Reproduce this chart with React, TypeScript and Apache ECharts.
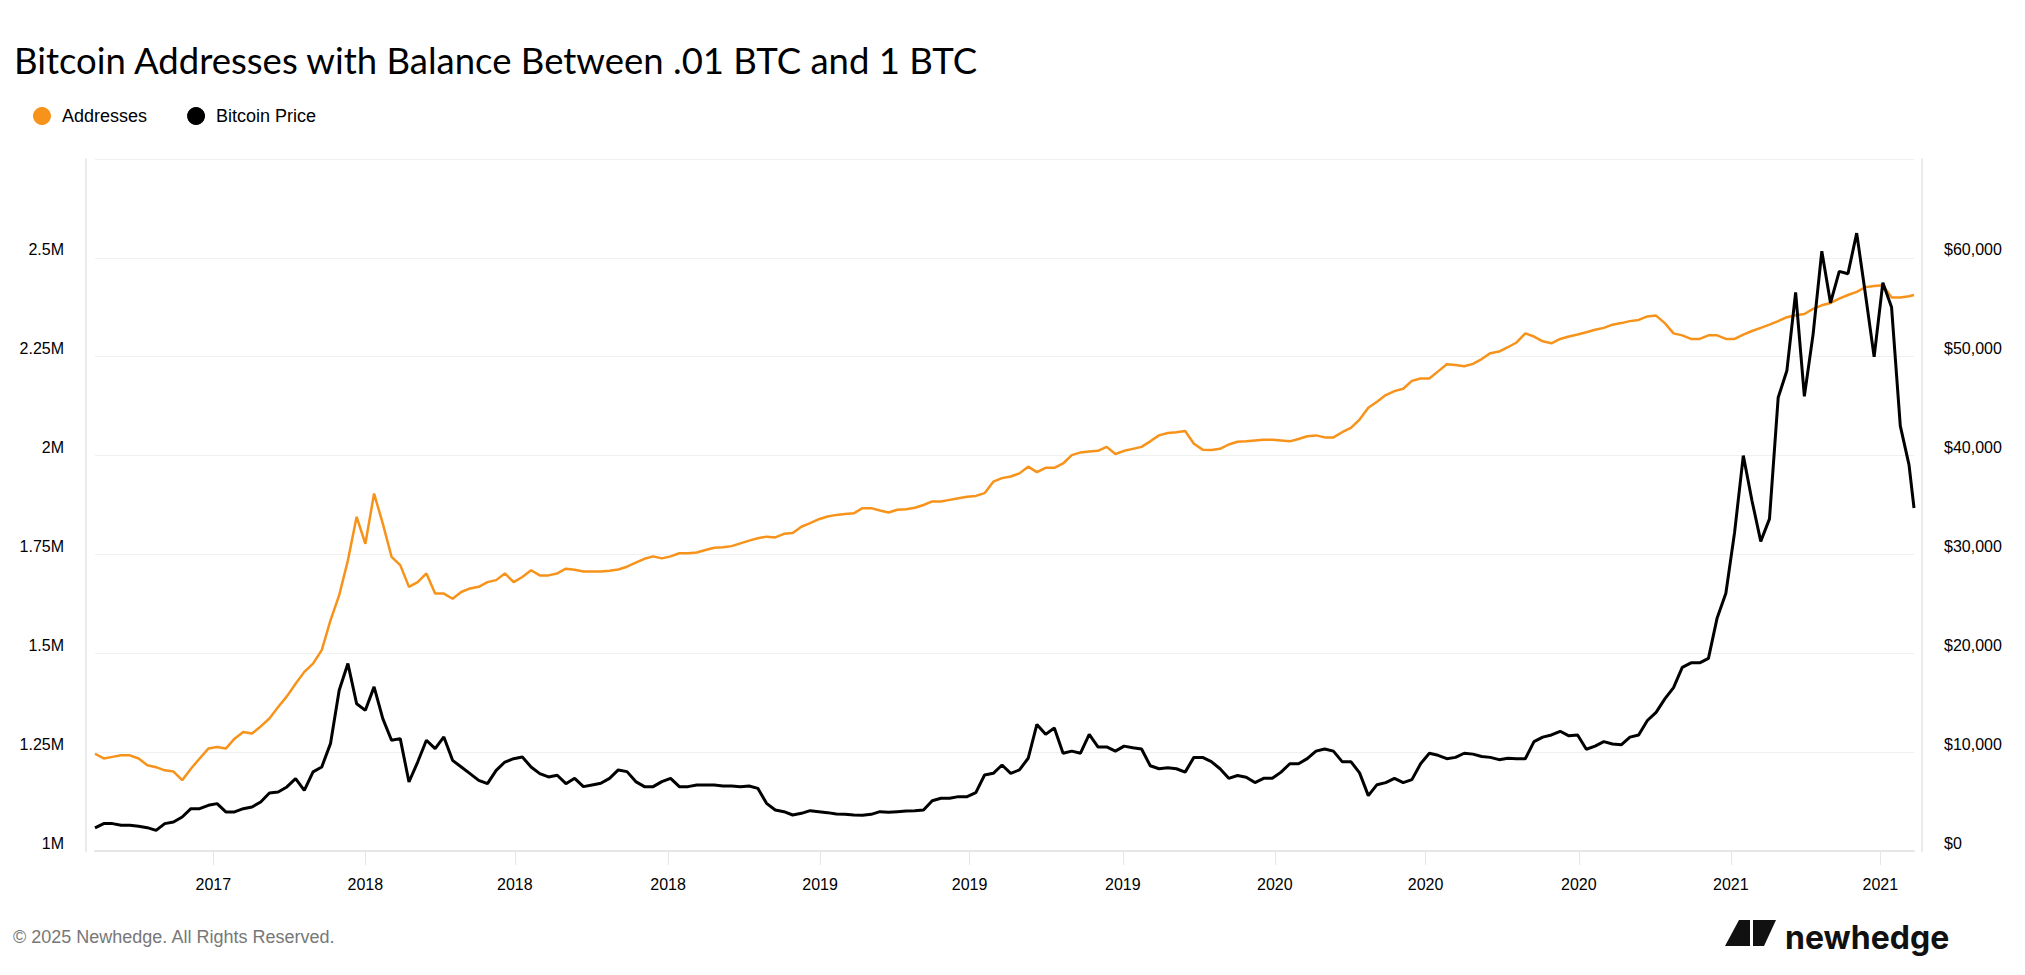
import * as echarts from 'echarts';
import { useEffect, useRef } from 'react';

// weekly samples from 2017-05-29, last point on 2021-05-28
const addresses = [
    1.246, 1.234, 1.238, 1.242, 1.242, 1.234, 1.217, 1.212, 1.204, 1.201,
    1.179, 1.208, 1.234, 1.259, 1.263, 1.259, 1.284, 1.301, 1.297, 1.315,
    1.335, 1.364, 1.391, 1.423, 1.453, 1.474, 1.508, 1.583, 1.647, 1.735,
    1.845, 1.777, 1.904, 1.828, 1.744, 1.723, 1.668, 1.680, 1.702, 1.651,
    1.651, 1.638, 1.655, 1.664, 1.668, 1.680, 1.685, 1.702, 1.680, 1.693,
    1.710, 1.697, 1.697, 1.702, 1.714, 1.711, 1.707, 1.707, 1.707, 1.709,
    1.712, 1.719, 1.729, 1.739, 1.745, 1.740, 1.745, 1.753, 1.753, 1.755,
    1.761, 1.767, 1.768, 1.771, 1.778, 1.785, 1.791, 1.795, 1.793, 1.802,
    1.804, 1.820, 1.829, 1.839, 1.846, 1.850, 1.852, 1.854, 1.867, 1.867,
    1.861, 1.856, 1.863, 1.864, 1.868, 1.875, 1.884, 1.884, 1.888, 1.892,
    1.896, 1.898, 1.905, 1.934, 1.943, 1.947, 1.955, 1.972, 1.958, 1.969,
    1.969, 1.980, 2.001, 2.008, 2.010, 2.012, 2.022, 2.004, 2.012, 2.017,
    2.022, 2.036, 2.051, 2.057, 2.059, 2.062, 2.030, 2.015, 2.014, 2.017,
    2.028, 2.035, 2.036, 2.038, 2.040, 2.040, 2.038, 2.036, 2.042, 2.049,
    2.051, 2.046, 2.046, 2.059, 2.070, 2.091, 2.121, 2.136, 2.153, 2.163,
    2.169, 2.189, 2.195, 2.195, 2.213, 2.231, 2.229, 2.226, 2.232, 2.244,
    2.259, 2.263, 2.274, 2.286, 2.309, 2.301, 2.289, 2.284, 2.295, 2.301,
    2.306, 2.312, 2.318, 2.323, 2.331, 2.335, 2.340, 2.343, 2.352, 2.354,
    2.335, 2.309, 2.304, 2.295, 2.295, 2.304, 2.304, 2.295, 2.295, 2.306,
    2.315, 2.323, 2.331, 2.340, 2.350, 2.355, 2.358, 2.371, 2.380, 2.386,
    2.397, 2.406, 2.414, 2.426, 2.429, 2.431, 2.400, 2.400, 2.403, 2.406,
];

const price = [
    2330, 2770, 2770, 2600, 2600, 2500, 2360, 2090, 2770, 2930,
    3440, 4280, 4280, 4620, 4790, 3950, 3950, 4280, 4450, 4960,
    5870, 5970, 6480, 7320, 6140, 8000, 8500, 10860, 16260, 18960,
    14900, 14230, 16600, 13390, 11200, 11370, 6980, 9000, 11200, 10350,
    11540, 9170, 8500, 7830, 7150, 6810, 8160, 9000, 9340, 9510,
    8500, 7830, 7490, 7660, 6810, 7350, 6510, 6680, 6850, 7350,
    8200, 8030, 7020, 6510, 6510, 7020, 7350, 6510, 6510, 6680,
    6680, 6680, 6580, 6580, 6510, 6580, 6340, 4820, 4150, 3980,
    3640, 3810, 4080, 3980, 3880, 3740, 3710, 3640, 3610, 3710,
    3980, 3910, 3980, 4050, 4080, 4150, 5090, 5330, 5330, 5500,
    5500, 5900, 7690, 7860, 8700, 7860, 8200, 9380, 12800, 11800,
    12440, 9890, 10100, 9890, 11800, 10530, 10530, 10100, 10610, 10450,
    10320, 8620, 8320, 8410, 8320, 7980, 9470, 9470, 9040, 8320,
    7350, 7640, 7470, 6920, 7350, 7350, 7980, 8830, 8830, 9340,
    10100, 10320, 10100, 9040, 9040, 7900, 5600, 6710, 6920, 7350,
    6920, 7220, 8830, 9890, 9680, 9340, 9470, 9890, 9800, 9560,
    9470, 9240, 9380, 9330, 9330, 11060, 11520, 11740, 12110, 11650,
    11740, 10290, 10610, 11060, 10830, 10740, 11520, 11740, 13200, 14020,
    15390, 16520, 18570, 19030, 19030, 19480, 23580, 26080, 32230, 40000,
    35410, 31320, 33600, 45880, 48610, 56500, 46000, 52260, 60680, 55440,
    58630, 58400, 62500, 56350, 49980, 57490, 55000, 43000, 39060, 34700,
];

const tickDates = [
    [2017, 8], [2018, 0], [2018, 4], [2018, 8], [2019, 0], [2019, 4],
    [2019, 8], [2020, 0], [2020, 4], [2020, 8], [2021, 0], [2021, 4],
];

const START = new Date(2017, 4, 29).getTime();
const END = new Date(2021, 4, 28).getTime();
const WEEK = 7 * 86400000;

const dates = addresses.map((_, i) => (i === addresses.length - 1 ? END : START + i * WEEK));
const ticks = tickDates.map(([y, m]) => new Date(y, m, 1).getTime());

const LABEL_FONT = "'Liberation Sans', Arial, sans-serif";

const App = () => {
    const chartRef = useRef(null);

    useEffect(() => {
        const chart = echarts.init(chartRef.current, null, { renderer: 'svg' });

        const option = {
            animation: false,
            backgroundColor: '#fff',
            title: {
                text: 'Bitcoin Addresses with Balance Between .01 BTC and 1 BTC',
                left: 14,
                top: 41,
                padding: 0,
                textStyle: { fontFamily: 'Lato', fontSize: 36.5, fontWeight: 'normal', color: '#000' },
            },
            legend: {
                data: ['Addresses', 'Bitcoin Price'],
                left: 33,
                top: 107,
                padding: 0,
                icon: 'circle',
                itemWidth: 18,
                itemHeight: 18,
                itemGap: 40,
                textStyle: { fontFamily: LABEL_FONT, fontSize: 18, color: '#000', padding: [0, 0, 0, 6] },
            },
            grid: { left: 95, right: 111, top: 159, bottom: 124 },
            xAxis: {
                type: 'value',
                min: START,
                max: END,
                axisLine: { lineStyle: { color: '#e6e6e6', width: 2 } },
                axisTick: { show: true, length: 14, customValues: ticks, lineStyle: { color: '#e6e6e6' } },
                axisLabel: {
                    customValues: ticks,
                    formatter: (v) => String(new Date(v).getFullYear()),
                    margin: 25,
                    fontFamily: LABEL_FONT,
                    fontSize: 16,
                    color: '#000',
                },
                splitLine: { show: false },
            },
            yAxis: [
                {
                    type: 'value',
                    position: 'left',
                    min: 1,
                    max: 2.75,
                    interval: 0.25,
                    offset: 9,
                    axisLine: { show: true, lineStyle: { color: '#ebebeb', width: 2 } },
                    axisTick: { show: false },
                    axisLabel: {
                        formatter: (v) => `${v}M`,
                        showMaxLabel: false,
                        margin: 22,
                        verticalAlign: 'bottom',
                        fontFamily: LABEL_FONT,
                        fontSize: 16,
                        color: '#000',
                    },
                    splitLine: { lineStyle: { color: '#f0f0f0', width: 1 } },
                },
                {
                    type: 'value',
                    position: 'right',
                    min: 0,
                    max: 70000,
                    interval: 10000,
                    offset: 8,
                    axisLine: { show: true, lineStyle: { color: '#ebebeb', width: 2 } },
                    axisTick: { show: false },
                    axisLabel: {
                        formatter: (v) => '$' + v.toLocaleString('en-US'),
                        showMaxLabel: false,
                        margin: 22,
                        verticalAlign: 'bottom',
                        fontFamily: LABEL_FONT,
                        fontSize: 16,
                        color: '#000',
                    },
                    splitLine: { show: false },
                },
            ],
            series: [
                {
                    name: 'Addresses',
                    type: 'line',
                    yAxisIndex: 0,
                    data: dates.map((d, i) => [d, addresses[i]]),
                    showSymbol: false,
                    itemStyle: { color: '#f7931a' },
                    lineStyle: { color: '#f7931a', width: 2.5 },
                },
                {
                    name: 'Bitcoin Price',
                    type: 'line',
                    yAxisIndex: 1,
                    data: dates.map((d, i) => [d, price[i]]),
                    showSymbol: false,
                    itemStyle: { color: '#000' },
                    lineStyle: { color: '#000', width: 3 },
                },
            ],
            graphic: [
                {
                    type: 'text',
                    left: 13,
                    top: 928,
                    style: {
                        text: '© 2025 Newhedge. All Rights Reserved.',
                        fontFamily: LABEL_FONT,
                        fontSize: 18,
                        fill: '#777',
                    },
                },
                {
                    type: 'polygon',
                    shape: { points: [[1739, 920], [1750, 920], [1750, 946], [1725, 946]] },
                    style: { fill: '#111' },
                },
                {
                    type: 'polygon',
                    shape: { points: [[1753, 920], [1776, 920], [1764, 946], [1753, 946]] },
                    style: { fill: '#111' },
                },
                {
                    type: 'text',
                    x: 1785,
                    y: 937,
                    style: {
                        text: 'newhedge',
                        fontFamily: 'Inter',
                        fontWeight: 700,
                        fontSize: 32,
                        fill: '#111',
                        verticalAlign: 'middle',
                    },
                },
            ],
        };

        chart.setOption(option);

        return () => {
            chart.dispose();
        };
    }, []);

    return <div ref={chartRef} style={{ position: 'fixed', left: 0, top: 0, width: '100vw', height: '100vh' }} />;
};

export default App;
